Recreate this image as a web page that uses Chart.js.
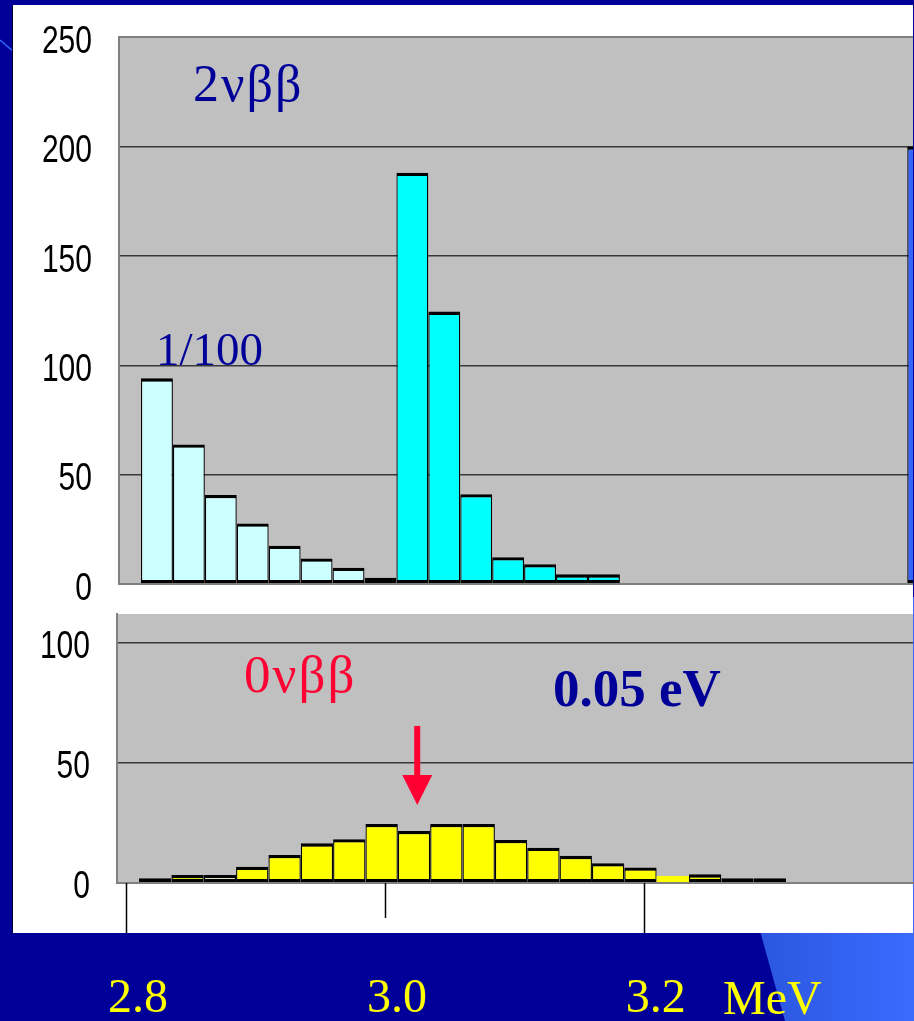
<!DOCTYPE html>
<html>
<head>
<meta charset="utf-8">
<script src="https://cdn.jsdelivr.net/npm/chart.js@4.4.1/dist/chart.umd.min.js"></script>
<style>
  html, body { margin: 0; padding: 0; }
  body {
    width: 914px; height: 1021px; position: relative; overflow: hidden;
    background: #000099;
    font-family: "Liberation Serif", "Times New Roman", serif;
  }
  #deco { position: absolute; left: 0; top: 0; }
  #panel {
    position: absolute; left: 13px; top: 5px; width: 900px; height: 928px;
    background: #ffffff; box-shadow: -1px 0 0 #00002a;
  }
  canvas { position: absolute; left: 0; }
  #topChart { top: 0; }
  #bottomChart { top: 580px; }
  .note { position: absolute; line-height: 1; white-space: nowrap; }
</style>
</head>
<body>
<svg id="deco" width="914" height="1021">
  <defs>
    <linearGradient id="streak" x1="0" y1="0" x2="1" y2="0">
      <stop offset="0" stop-color="#2b57df"/>
      <stop offset="1" stop-color="#3a6bff"/>
    </linearGradient>
  </defs>
  <polygon points="757,920 785,1021 914,1021 914,597 912,597" fill="url(#streak)"/>
  <line x1="0" y1="40" x2="14" y2="52" stroke="#3366ff" stroke-width="1.5"/>
</svg>
<div id="panel"></div>
<canvas id="topChart" width="914" height="630"></canvas>
<canvas id="bottomChart" width="914" height="441"></canvas>

<div class="note" style="left:193px; top:58px; font-size:52px; letter-spacing:2px; color:#000099;">2νββ</div>
<div class="note" style="left:156px; top:326px; font-size:47px; color:#000099;">1/100</div>
<div class="note" style="left:244px; top:648px; font-size:53px; letter-spacing:2px; color:#ff0033;">0νββ</div>
<div class="note" style="left:553px; top:662px; font-size:53px; font-weight:bold; color:#000099;">0.05 eV</div>
<div class="note" style="left:723px; top:974px; font-size:48px; color:#ffff00;">MeV</div>

<script>
// Energy bin centres in MeV (25 keV bins)
const energyBins = [
  2.8225, 2.8475, 2.8725, 2.8975, 2.9225, 2.9475, 2.9725, 2.9975,
  3.0225, 3.0475, 3.0725, 3.0975, 3.1225, 3.1475, 3.1725, 3.1975,
  3.2225, 3.2475, 3.2725, 3.2975, 3.3225, 3.3475, 3.3725, 3.3975, 3.4225
];

// 2νββ counts below 3.0 MeV, shown scaled by 1/100
const twoNuScaled = [94.0, 63.8, 40.7, 27.7, 17.5, 11.7, 7.4, 2.9];
const twoNuScaledBins = energyBins.slice(0, 8);

// 2νββ counts from 3.0 MeV upward
const twoNuTail = [188.0, 124.5, 41.0, 12.2, 9.0, 4.4, 4.4];
const twoNuTailBins = energyBins.slice(8, 15);

// bar at the right edge of the upper panel
const edgeBar = [200];
const edgeBarBins = energyBins.slice(24, 25);

// 0νββ peak for <mν> = 0.05 eV
const zeroNu = [2.0, 3.3, 3.3, 6.8, 11.7, 16.5, 18.2, 24.6, 21.7, 24.6,
                24.6, 17.9, 14.7, 11.3, 8.2, 6.5, 2.9, 3.6, 2.0, 2.0];
const zeroNuBins = energyBins.slice(0, 20);

// axis ticks
const topCountTicks = [0, 50, 100, 150, 200, 250];
const bottomCountTicks = [0, 50, 100];
const energyTicks = [2.8, 3.0, 3.2];

// Q-value marker (MeV) and the count range the arrow spans
const qValueEnergy = 3.025;
const qArrowCounts = [65.4, 32.5];

const pairs = (xs, ys) => xs.map((x, i) => ({ x, y: ys[i] }));

// grey plotting area behind grid and bars
const plotBackground = {
  id: 'plotBackground',
  beforeDraw(chart, args, opts) {
    const { ctx, chartArea: a } = chart;
    ctx.save();
    ctx.fillStyle = opts.color;
    ctx.fillRect(a.left, a.top, a.right - a.left, a.bottom - a.top);
    ctx.restore();
  }
};

// narrow count labels along the y axis
const narrowCountLabels = {
  id: 'narrowCountLabels',
  afterDraw(chart, args, opts) {
    const { ctx } = chart;
    const s = chart.scales.y;
    ctx.save();
    ctx.font = opts.size + 'px ' + opts.family;
    ctx.fillStyle = opts.color;
    ctx.textAlign = 'right';
    ctx.textBaseline = 'middle';
    s.ticks.forEach((t) => {
      const y = s.getPixelForValue(t.value);
      ctx.save();
      ctx.translate(s.right - opts.gap, y + opts.shift);
      ctx.scale(opts.squeeze, 1);
      ctx.fillText(String(t.value), 0, 0);
      ctx.restore();
    });
    ctx.restore();
  }
};

// energy tick marks hanging below the lower plot: outer ones long, inner ones short
const energyTickMarks = {
  id: 'energyTickMarks',
  afterDraw(chart, args, opts) {
    const { ctx } = chart;
    const s = chart.scales.x;
    const n = s.ticks.length;
    ctx.save();
    ctx.strokeStyle = opts.color;
    ctx.lineWidth = opts.width;
    s.ticks.forEach((t, i) => {
      const x = Math.round(s.getPixelForValue(t.value)) + 0.5;
      const len = (i === 0 || i === n - 1) ? opts.outerLength : opts.innerLength;
      ctx.beginPath();
      ctx.moveTo(x, s.top);
      ctx.lineTo(x, s.top + len);
      ctx.stroke();
    });
    ctx.restore();
  }
};

// downward arrow at the Q-value
const markerArrow = {
  id: 'markerArrow',
  afterDatasetsDraw(chart, args, opts) {
    const { ctx, scales } = chart;
    const x = scales.x.getPixelForValue(opts.energy);
    const yTail = scales.y.getPixelForValue(opts.counts[0]);
    const yTip = scales.y.getPixelForValue(opts.counts[1]);
    const head = 30;
    ctx.save();
    ctx.fillStyle = opts.color;
    ctx.fillRect(x - 3, yTail, 6, yTip - yTail - head + 1);
    ctx.beginPath();
    ctx.moveTo(x - 15, yTip - head);
    ctx.lineTo(x + 15, yTip - head);
    ctx.lineTo(x, yTip);
    ctx.closePath();
    ctx.fill();
    ctx.restore();
  }
};

const labelStyle = {
  family: "'Liberation Sans', Arial, sans-serif",
  size: 39,
  color: '#000000',
  gap: 27,
  shift: 5,
  squeeze: 0.77
};
const barBorder = { top: 3.3, bottom: 3, left: 1.3, right: 1.3 };

function countAxis(max, ticks, width, topValue) {
  return {
    min: 0,
    max: max,
    afterBuildTicks: (axis) => { axis.ticks = ticks.map(v => ({ value: v })); },
    afterFit: (axis) => { axis.width = width; },
    ticks: { display: false },
    grid: {
      drawTicks: false,
      color: (c) => (c.tick && (c.tick.value === 0 || c.tick.value === topValue)) ? '#808080' : '#383838',
      lineWidth: (c) => (c.tick && (c.tick.value === 0 || c.tick.value === topValue)) ? 2 : 1.4
    },
    border: { display: true, color: '#808080', width: 2 }
  };
}

const commonOptions = {
  responsive: false,
  animation: false,
  devicePixelRatio: 1,
  datasets: {
    bar: {
      grouped: false,
      categoryPercentage: 1,
      barPercentage: 1,
      inflateAmount: 0,
      borderSkipped: false,
      borderColor: '#000000'
    }
  }
};

new Chart(document.getElementById('topChart'), {
  type: 'bar',
  data: {
    datasets: [
      {
        label: '2νββ × 1/100',
        data: pairs(twoNuScaledBins, twoNuScaled),
        backgroundColor: (c) => c.dataIndex === twoNuScaled.length - 1 ? '#ccccff' : '#ccffff',
        borderWidth: barBorder
      },
      {
        label: '2νββ',
        data: pairs(twoNuTailBins, twoNuTail),
        backgroundColor: '#00ffff',
        borderWidth: barBorder
      },
      {
        label: 'edge',
        data: pairs(edgeBarBins, edgeBar),
        backgroundColor: '#3366ff',
        borderWidth: barBorder
      }
    ]
  },
  options: Object.assign({}, commonOptions, {
    layout: { padding: { top: 37, bottom: 46, left: 0, right: 1 } },
    plugins: {
      legend: { display: false },
      tooltip: { enabled: false },
      plotBackground: { color: '#c0c0c0' },
      narrowCountLabels: labelStyle
    },
    scales: {
      x: {
        type: 'linear', min: 2.7928, max: 3.4145, display: false, offset: false,
        grid: { offset: false }, ticks: { stepSize: 0.1 }
      },
      y: countAxis(250, topCountTicks, 119, 250)
    }
  }),
  plugins: [plotBackground, narrowCountLabels]
});

new Chart(document.getElementById('bottomChart'), {
  type: 'bar',
  data: {
    datasets: [
      {
        label: '0νββ',
        data: pairs(zeroNuBins, zeroNu),
        backgroundColor: (c) => c.dataIndex === 2 ? '#ffffcc' : '#ffff00',
        borderWidth: (c) => c.dataIndex === 16 ? 0 : barBorder
      }
    ]
  },
  options: Object.assign({}, commonOptions, {
    layout: { padding: { top: 34, bottom: 0, left: 0, right: 1 } },
    plugins: {
      legend: { display: false },
      tooltip: { enabled: false },
      plotBackground: { color: '#c0c0c0' },
      narrowCountLabels: Object.assign({}, labelStyle, { shift: 4 }),
      markerArrow: { energy: qValueEnergy, counts: qArrowCounts, color: '#ff0033' },
      energyTickMarks: { color: '#000000', width: 1.5, outerLength: 50, innerLength: 35 }
    },
    scales: {
      x: {
        type: 'linear',
        min: 2.7930,
        max: 3.4081,
        offset: false,
        position: 'bottom',
        afterBuildTicks: (axis) => { axis.ticks = energyTicks.map(v => ({ value: v })); },
        afterFit: (axis) => { axis.height = 138; },
        ticks: {
          color: '#ffff00',
          padding: 88,
          labelOffset: 12,
          font: { family: "'Liberation Serif', 'Times New Roman', serif", size: 48 },
          callback: (v) => Number(v).toFixed(1)
        },
        grid: {
          offset: false,
          drawOnChartArea: false,
          drawTicks: false
        },
        border: { display: true, color: '#808080', width: 2 }
      },
      y: countAxis(112, bottomCountTicks, 117, null)
    }
  }),
  plugins: [plotBackground, markerArrow, energyTickMarks, narrowCountLabels]
});
</script>
</body>
</html>
